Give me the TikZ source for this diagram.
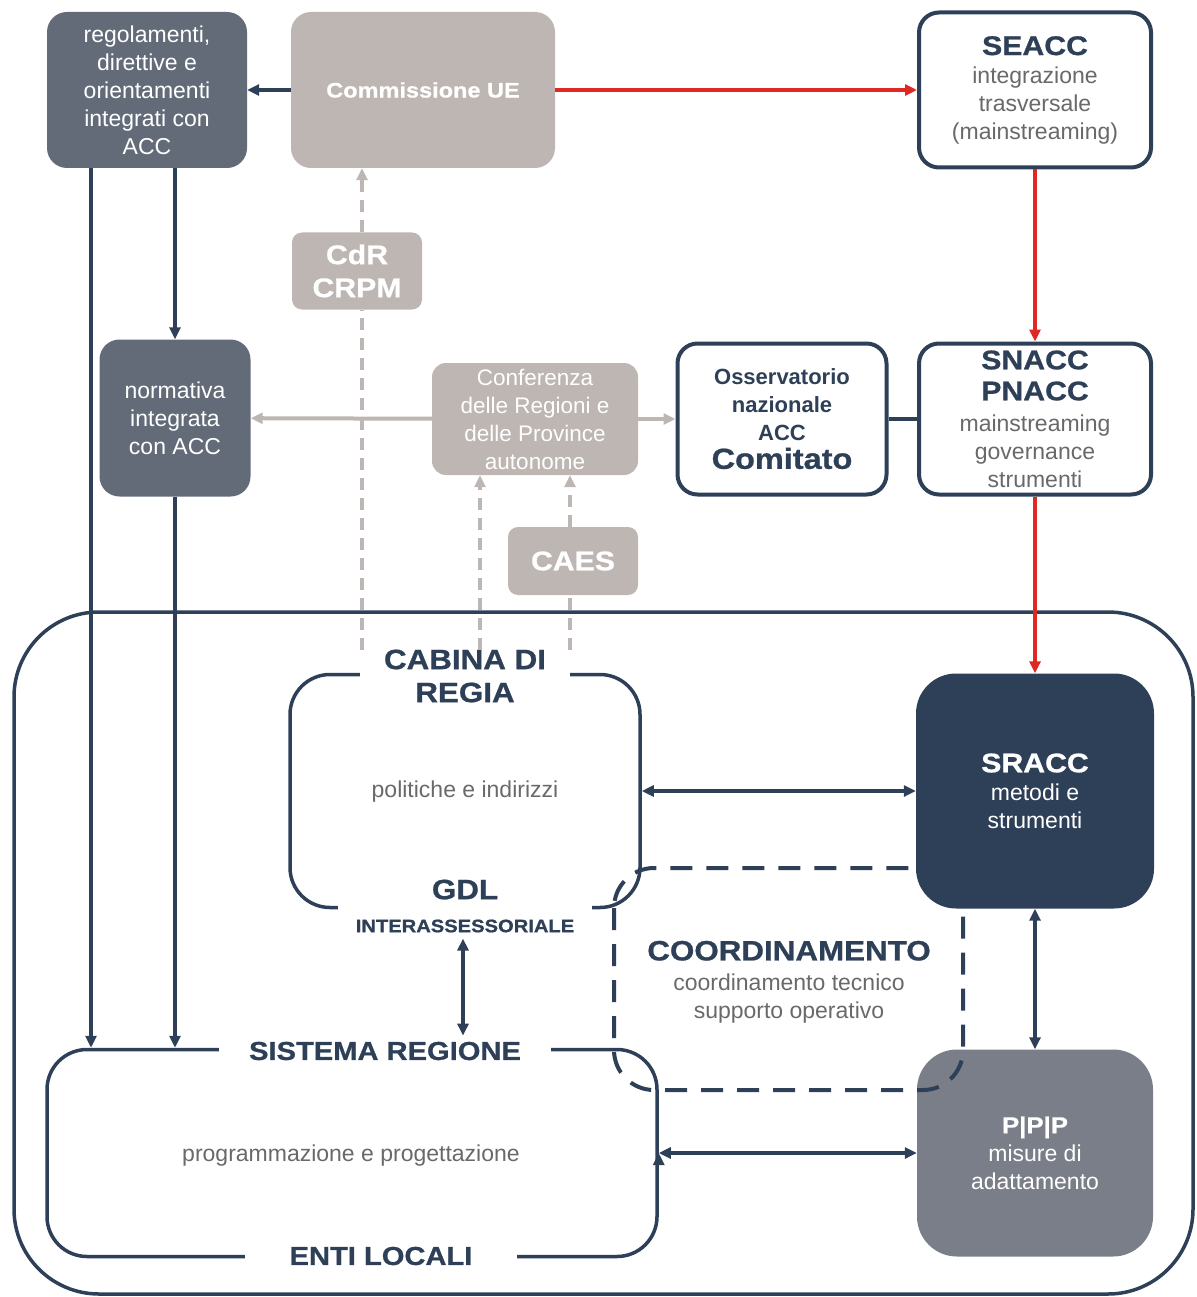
\documentclass[tikz,border=0pt]{standalone}
\usepackage{fontspec}
\setmainfont{Liberation Sans}
\newfontfamily\heavyfont{Liberation Sans}[UprightFont={* Bold}, FakeStretch=1.12, FakeBold=0.8]
\usetikzlibrary{arrows.meta}
\definecolor{myNavy}{RGB}{46,64,87}
\definecolor{mySlate}{RGB}{99,107,121}
\definecolor{myPgray}{RGB}{122,126,136}
\definecolor{myTaupe}{RGB}{189,182,178}
\definecolor{myRed}{RGB}{224,40,34}
\definecolor{myText}{RGB}{105,105,105}

\tikzset{
	box/.style={rectangle, rounded corners=20pt, align=center, inner sep=0pt,
		font=\fontsize{23}{28}\selectfont},
	slatebox/.style={box, fill=mySlate, text=white},
	taupebox/.style={box, fill=myTaupe, text=white},
	linebox/.style={box, draw=myNavy, line width=4pt, fill=white, text=myText},
	bigbox/.style={rectangle, rounded corners=40pt, draw=myNavy, line width=3.5pt},
	gap/.style={fill=white, inner ysep=2pt, align=center, text=myNavy,
		font=\fontsize{28}{33}\selectfont\heavyfont},
	navyline/.style={draw=myNavy, line width=3.5pt},
	taupeline/.style={draw=myTaupe, line width=4pt, dash pattern=on 12pt off 8pt},
	redline/.style={draw=myRed, line width=3.5pt},
}

\begin{document}
\begin{tikzpicture}[x=1pt, y=-1pt, >={Triangle[length=12pt,width=11pt]}]
	\useasboundingbox (0,0) rectangle (1196,1297);

	% outer frame
	\draw[myNavy, line width=3.5pt, rounded corners=85pt] (14,612) rectangle (1193,1294);

	% top row
	\draw (147,90) node[slatebox, minimum width=200pt, minimum height=156pt] (reg)
		{regolamenti,\\direttive e\\orientamenti\\integrati con\\ACC};
	\draw (423,90) node[taupebox, minimum width=264pt, minimum height=156pt,
		font=\fontsize{21}{28}\selectfont\heavyfont] (comm) {Commissione UE};
	\draw (1035,90) node[linebox, minimum width=232pt, minimum height=155pt] (seacc)
		{{\fontsize{27}{32}\selectfont\heavyfont\color{myNavy}SEACC}\\integrazione\\trasversale\\(mainstreaming)};
	\draw (357,271) node[taupebox, rounded corners=10pt, minimum width=130pt, minimum height=77pt,
		font=\fontsize{27}{33}\selectfont\heavyfont] (cdr) {CdR\\CRPM};

	% middle row
	\draw (175,418) node[slatebox, minimum width=151pt, minimum height=157pt] (norm)
		{normativa\\integrata\\con ACC};
	\draw (535,419) node[taupebox, rounded corners=14pt, minimum width=206pt, minimum height=112pt,
		font=\fontsize{22.5}{28}\selectfont] (conf)
		{Conferenza\\delle Regioni e\\delle Province\\autonome};
	\draw (782,419) node[linebox, minimum width=209pt, minimum height=151pt, text=myNavy,
		font=\fontsize{22}{28}\selectfont] (oss)
		{\bfseries Osservatorio\\\bfseries nazionale\\\bfseries ACC\\{\fontsize{29}{31}\selectfont\heavyfont Comitato}};
	\draw (1035,419) node[linebox, minimum width=232pt, minimum height=151pt] (snacc)
		{{\fontsize{27}{33}\selectfont\heavyfont\color{myNavy}SNACC}\\[3pt]{\fontsize{27}{33}\selectfont\heavyfont\color{myNavy}PNACC}\\[3pt]mainstreaming\\governance\\strumenti};
	\draw (573,561) node[taupebox, rounded corners=10pt, minimum width=130pt, minimum height=68pt,
		font=\fontsize{27}{33}\selectfont\heavyfont] (caes) {CAES};

	% regional system
	\draw (465,791) node[bigbox, minimum width=350pt, minimum height=233pt] (cab) {};
	\draw (352,1153) node[bigbox, minimum width=610pt, minimum height=207pt] (sis) {};
	\draw (1035,1153) node[box, rounded corners=40pt, fill=myPgray, text=white,
		minimum width=236pt, minimum height=207pt] (pip)
		{{\heavyfont P|P|P}\\misure di\\adattamento};
	\draw[myNavy, line width=4pt, dash pattern=on 22pt off 14pt, rounded corners=40pt]
		(614,868) rectangle (963,1090);
	\draw (1035,791) node[box, rounded corners=40pt, fill=myNavy, text=white,
		minimum width=238pt, minimum height=235pt] (sracc)
		{{\fontsize{27}{33}\selectfont\heavyfont SRACC}\\metodi e\\strumenti};

	\draw (465,676) node[gap, inner xsep=24pt] (cablab) {CABINA DI\\REGIA};
	\draw (465,906) node[gap, inner xsep=18pt] (gdl)
		{GDL\\{\fontsize{18}{22}\selectfont\heavyfont INTERASSESSORIALE}};
	\draw (385,1051) node[gap, inner xsep=30pt, font=\fontsize{26}{30}\selectfont\heavyfont] (sislab)
		{SISTEMA REGIONE};
	\draw (381,1256) node[gap, inner xsep=45pt, font=\fontsize{26}{30}\selectfont\heavyfont] (entilab)
		{ENTI LOCALI};

	\draw (465,792) node[text=myText, font=\fontsize{23}{28}\selectfont] (pol) {politiche e indirizzi};
	\draw (351,1156) node[text=myText, font=\fontsize{23}{28}\selectfont] (prog) {programmazione e progettazione};
	\draw (789,982) node[align=center, text=myText, font=\fontsize{23}{28}\selectfont] (coord)
		{{\fontsize{28}{33}\selectfont\heavyfont\color{myNavy}COORDINAMENTO}\\[2pt]coordinamento tecnico\\supporto operativo};

	\coordinate (d1) at (362,650);
	\coordinate (d2) at (480,650);
	\coordinate (d3) at (570,650);
	\coordinate (g1) at (463,906);

	% connectors
	\path[->, redline]
	(comm) edge[myRed] (seacc)
	(seacc) edge[myRed] (snacc)
	(snacc) edge[myRed] (sracc)
	;
	\path[->, navyline]
	(comm) edge[myNavy] (reg)
	([xshift=-56pt]reg.south) edge[myNavy] ([xshift=-56pt]reg.south |- sis.north)
	(norm.north |- reg.south) edge[myNavy] (norm.north)
	(norm.south) edge[myNavy] (norm.south |- sis.north)
	(g1 |- gdl.south) edge[myNavy, <->, shorten <=4pt, shorten >=4pt] (g1 |- sislab.north)
	(cab.east) edge[myNavy, <->] (cab.east -| sracc.west)
	(sracc) edge[myNavy, <->] (pip)
	(sis.east) edge[myNavy, <->] (sis.east -| pip.west)
	;
	\draw[navyline] (oss.east) -- (oss.east -| snacc.west);
	\path[->, draw=myTaupe, line width=4pt]
	(conf) edge[myTaupe] (norm)
	(conf) edge[myTaupe] (oss)
	;
	\path[taupeline]
	(d1) edge[myTaupe] (d1 |- cdr.south)
	(d1 |- cdr.north) edge[myTaupe, ->] (d1 |- comm.south)
	(d2) edge[myTaupe, ->] (d2 |- conf.south)
	(d3) edge[myTaupe] (d3 |- caes.south)
	(d3 |- caes.north) edge[myTaupe, ->] (d3 |- conf.south)
	;
\end{tikzpicture}
\end{document}
